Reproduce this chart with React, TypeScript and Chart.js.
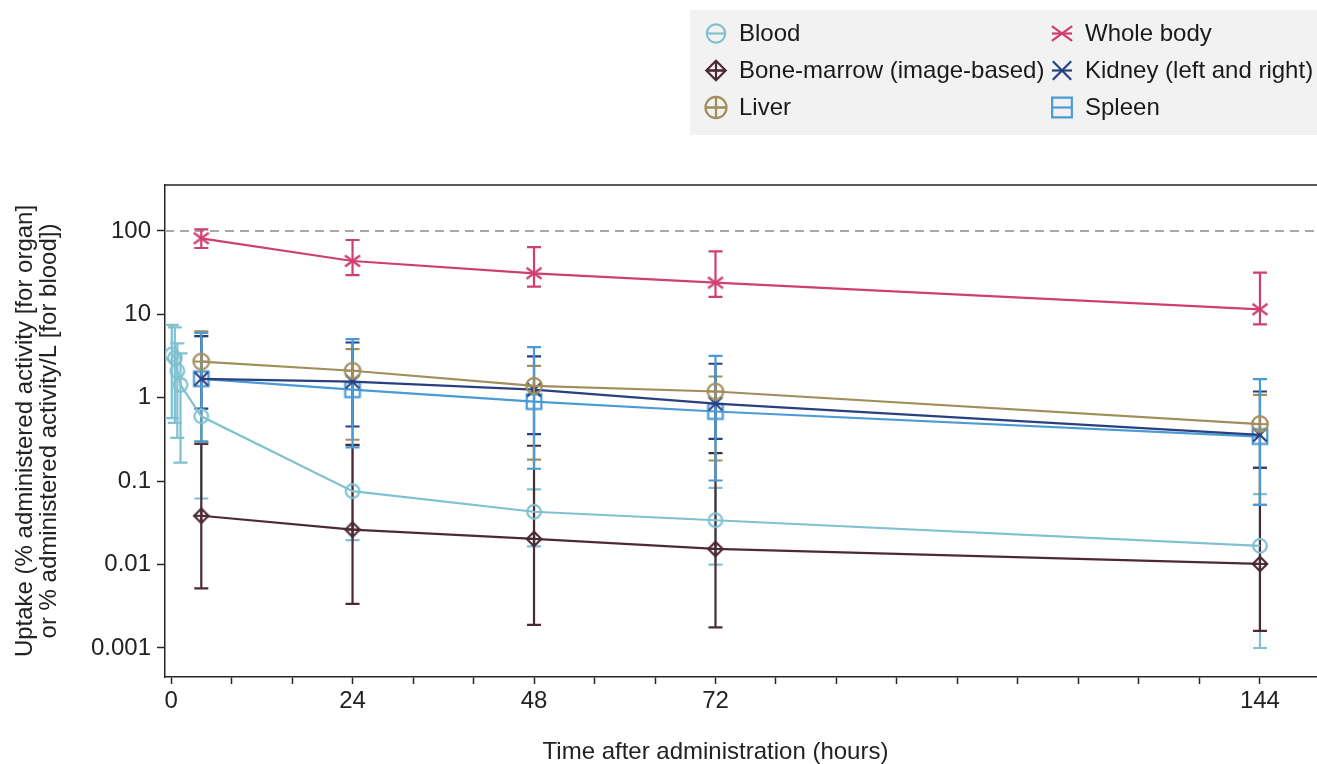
import React, { useEffect, useRef } from "react";
import { Chart, registerables } from "chart.js";

Chart.register(...registerables);

const FONT = "'Liberation Sans', Arial, Helvetica, sans-serif";

// ---- data ----
const seriesNames = [
  "Blood",
  "Bone-marrow (image-based)",
  "Liver",
  "Whole body",
  "Kidney (left and right)",
  "Spleen",
];
const seriesColors = ["#7fc1d0", "#4b2a36", "#a28e5c", "#cf3f6e", "#283f80", "#4a9bd5"];

const bloodTimes = [0.1, 0.5, 0.83, 1.25, 4, 24, 48, 72, 144];
const bloodValues = [3.3, 3.0, 2.1, 1.43, 0.6, 0.076, 0.043, 0.034, 0.0168];
const bloodLower = [0.57, 0.5, 0.33, 0.167, 0.062, 0.0197, 0.0165, 0.01, 0.001];
const bloodUpper = [7.5, 7.0, 4.5, 3.4, 5.5, 0.27, 0.08, 0.083, 0.07];

const organTimes = [4, 24, 48, 72, 144];

const marrowValues = [0.0385, 0.0263, 0.0203, 0.0154, 0.0102];
const marrowLower = [0.0052, 0.00338, 0.00189, 0.00177, 0.0016];
const marrowUpper = [0.28, 0.273, 0.266, 0.217, 0.145];

const liverValues = [2.72, 2.11, 1.39, 1.19, 0.484];
const liverLower = [0.294, 0.314, 0.181, 0.177, 0.052];
const liverUpper = [6.24, 3.84, 2.42, 1.8, 1.086];

const wholeBodyValues = [81.7, 43.7, 31.1, 24.0, 11.5];
const wholeBodyLower = [62.5, 29.6, 21.5, 16.2, 7.6];
const wholeBodyUpper = [104.8, 78, 64, 57.1, 31.6];

const kidneyValues = [1.69, 1.56, 1.25, 0.85, 0.36];
const kidneyLower = [0.74, 0.453, 0.367, 0.322, 0.145];
const kidneyUpper = [5.5, 4.6, 3.13, 2.56, 1.19];

const spleenValues = [1.69, 1.25, 0.9, 0.685, 0.343];
const spleenLower = [0.3, 0.254, 0.141, 0.102, 0.052];
const spleenUpper = [6.0, 5.06, 4.05, 3.19, 1.675];

const xTicks = [0, 8, 16, 24, 32, 40, 48, 56, 64, 72, 80, 88, 96, 104, 112, 120, 128, 136, 144];
const xTickLabels = ["0", "", "", "24", "", "", "48", "", "", "72", "", "", "", "", "", "", "", "", "144"];
const yTicks = [0.001, 0.01, 0.1, 1, 10, 100];
const yTickLabels = ["0.001", "0.01", "0.1", "1", "10", "100"];
const referenceLevel = 100;

const xTitle = "Time after administration (hours)";
const yTitle = ["Uptake (% administered activity [for organ]", "or % administered activity/L [for blood])"];

// ---- markers ----
type MarkerKind = "circle" | "diamondPlus" | "circlePlus" | "xWide" | "x" | "square";
const seriesMarkers: MarkerKind[] = ["circle", "diamondPlus", "circlePlus", "xWide", "x", "square"];

function drawMarker(
  ctx: CanvasRenderingContext2D,
  kind: MarkerKind,
  cx: number,
  cy: number,
  s: number,
  color: string,
  lw: number
) {
  ctx.save();
  ctx.strokeStyle = color;
  ctx.lineWidth = lw;
  ctx.lineJoin = "miter";
  ctx.beginPath();
  if (kind === "circle") {
    ctx.arc(cx, cy, 6.8 * s, 0, Math.PI * 2);
  } else if (kind === "circlePlus") {
    const r = 7.8 * s;
    ctx.arc(cx, cy, r, 0, Math.PI * 2);
    ctx.moveTo(cx - r, cy);
    ctx.lineTo(cx + r, cy);
    ctx.moveTo(cx, cy - r);
    ctx.lineTo(cx, cy + r);
  } else if (kind === "diamondPlus") {
    const d = 7.2 * s;
    ctx.moveTo(cx, cy - d);
    ctx.lineTo(cx + d, cy);
    ctx.lineTo(cx, cy + d);
    ctx.lineTo(cx - d, cy);
    ctx.closePath();
    ctx.moveTo(cx - d, cy);
    ctx.lineTo(cx + d, cy);
    ctx.moveTo(cx, cy - d);
    ctx.lineTo(cx, cy + d);
  } else if (kind === "xWide") {
    const w = 7.5 * s;
    const h = 5.5 * s;
    ctx.moveTo(cx - w, cy - h);
    ctx.lineTo(cx + w, cy + h);
    ctx.moveTo(cx - w, cy + h);
    ctx.lineTo(cx + w, cy - h);
  } else if (kind === "x") {
    const w = 6.8 * s;
    ctx.moveTo(cx - w, cy - w);
    ctx.lineTo(cx + w, cy + w);
    ctx.moveTo(cx - w, cy + w);
    ctx.lineTo(cx + w, cy - w);
  } else if (kind === "square") {
    const a = 7.3 * s;
    ctx.rect(cx - a, cy - a, 2 * a, 2 * a);
  }
  ctx.stroke();
  ctx.restore();
}

function makeMarkerImage(kind: MarkerKind, color: string): HTMLCanvasElement {
  const c = document.createElement("canvas");
  c.width = 28;
  c.height = 28;
  const ctx = c.getContext("2d")!;
  drawMarker(ctx, kind, 14, 14, 1, color, 2.2);
  return c;
}

const errorBarPlugin = {
  id: "errorBars",
  beforeDatasetsDraw(chart: any) {
    const { ctx, chartArea } = chart;
    const xs = chart.scales.x;
    const ys = chart.scales.y;
    ctx.save();
    ctx.beginPath();
    ctx.rect(chartArea.left, chartArea.top, chartArea.right - chartArea.left, chartArea.bottom - chartArea.top);
    ctx.clip();
    // reference dashed line
    const yr = ys.getPixelForValue(referenceLevel);
    ctx.strokeStyle = "#a8a8a8";
    ctx.lineWidth = 2;
    ctx.setLineDash([9, 6]);
    ctx.beginPath();
    ctx.moveTo(chartArea.left, yr);
    ctx.lineTo(chartArea.right, yr);
    ctx.stroke();
    ctx.setLineDash([]);
    chart.data.datasets.forEach((ds: any) => {
      ctx.strokeStyle = ds.borderColor;
      ctx.lineWidth = 2.2;
      ds.data.forEach((p: any, i: number) => {
        const x = xs.getPixelForValue(p.x);
        const y1 = ys.getPixelForValue(ds.errLower[i]);
        const y2 = ys.getPixelForValue(ds.errUpper[i]);
        ctx.beginPath();
        ctx.moveTo(x, y1);
        ctx.lineTo(x, y2);
        ctx.moveTo(x - 7, y1);
        ctx.lineTo(x + 7, y1);
        ctx.moveTo(x - 7, y2);
        ctx.lineTo(x + 7, y2);
        ctx.stroke();
      });
    });
    ctx.restore();
  },
  afterDraw(chart: any) {
    const { ctx, chartArea } = chart;
    const xs = chart.scales.x;
    ctx.save();
    // top frame
    ctx.strokeStyle = "#262626";
    ctx.lineWidth = 1.5;
    ctx.beginPath();
    ctx.moveTo(chartArea.left, chartArea.top);
    ctx.lineTo(chartArea.right, chartArea.top);
    ctx.lineTo(chartArea.right, chartArea.bottom);
    ctx.stroke();
    // x title
    ctx.fillStyle = "#222";
    ctx.font = `24px ${FONT}`;
    ctx.textAlign = "center";
    ctx.textBaseline = "middle";
    ctx.fillText(xTitle, xs.getPixelForValue(72), 752);
    // legend
    ctx.fillStyle = "#f2f2f2";
    ctx.fillRect(690, 10, 700, 125);
    const colMarkerX = [716, 1062];
    const colTextX = [739, 1085];
    const rowY = [33.5, 70.5, 107.5];
    const order = [0, 1, 2, 3, 4, 5];
    order.forEach((si, k) => {
      const col = k < 3 ? 0 : 1;
      const row = k % 3;
      const mx = colMarkerX[col];
      const my = rowY[row];
      const color = seriesColors[si];
      ctx.strokeStyle = color;
      ctx.lineWidth = 2.2;
      ctx.beginPath();
      ctx.moveTo(mx - 10, my);
      ctx.lineTo(mx + 10, my);
      ctx.stroke();
      drawMarker(ctx, seriesMarkers[si], mx, my, 1.35, color, 2.2);
      ctx.fillStyle = "#1a1a1a";
      ctx.font = `24px ${FONT}`;
      ctx.textAlign = "left";
      ctx.textBaseline = "middle";
      ctx.fillText(seriesNames[si], colTextX[col], my + 1);
    });
    ctx.restore();
  },
};

export default function App() {
  const canvasRef = useRef<HTMLCanvasElement | null>(null);

  useEffect(() => {
    const canvas = canvasRef.current;
    if (!canvas) return;

    const seriesTimes = [bloodTimes, organTimes, organTimes, organTimes, organTimes, organTimes];
    const seriesValues = [bloodValues, marrowValues, liverValues, wholeBodyValues, kidneyValues, spleenValues];
    const seriesLower = [bloodLower, marrowLower, liverLower, wholeBodyLower, kidneyLower, spleenLower];
    const seriesUpper = [bloodUpper, marrowUpper, liverUpper, wholeBodyUpper, kidneyUpper, spleenUpper];

    const datasets = seriesNames.map((name, si) => {
      const img = makeMarkerImage(seriesMarkers[si], seriesColors[si]);
      return {
        label: name,
        data: seriesTimes[si].map((t, i) => ({ x: t, y: seriesValues[si][i] })),
        errLower: seriesLower[si],
        errUpper: seriesUpper[si],
        borderColor: seriesColors[si],
        backgroundColor: seriesColors[si],
        borderWidth: 2.2,
        tension: 0,
        pointStyle: img,
        pointRadius: 7,
        pointHoverRadius: 7,
        fill: false,
      };
    });

    const chart = new Chart(canvas, {
      type: "line",
      data: { datasets: datasets as any },
      plugins: [errorBarPlugin as any],
      options: {
        animation: false,
        responsive: false,
        devicePixelRatio: 1,
        events: [],
        layout: { padding: { top: 185, right: 12, bottom: 0, left: 0 } },
        plugins: {
          legend: { display: false },
          tooltip: { enabled: false },
          title: { display: false },
        },
        scales: {
          x: {
            type: "linear",
            min: -0.8,
            max: 153,
            afterFit: (scale: any) => {
              scale.height = 87;
            },
            afterBuildTicks: (scale: any) => {
              scale.ticks = xTicks.map((v) => ({ value: v }));
            },
            ticks: {
              autoSkip: false,
              maxRotation: 0,
              padding: 3,
              color: "#222",
              font: { family: FONT, size: 24 },
              callback: (value: any) => {
                const idx = xTicks.indexOf(Number(value));
                return idx >= 0 ? xTickLabels[idx] : "";
              },
            },
            grid: {
              display: true,
              drawOnChartArea: false,
              drawTicks: true,
              tickLength: 7,
              tickColor: "#262626",
              tickWidth: 1.5,
            },
            border: { display: true, color: "#262626", width: 1.5 },
          },
          y: {
            type: "logarithmic",
            min: 0.000449,
            max: 356,
            afterFit: (scale: any) => {
              scale.width = 165;
            },
            afterBuildTicks: (scale: any) => {
              scale.ticks = yTicks.map((v) => ({ value: v }));
            },
            ticks: {
              autoSkip: false,
              padding: 6,
              color: "#222",
              font: { family: FONT, size: 24 },
              callback: (value: any) => {
                const idx = yTicks.findIndex((v) => Math.abs(v - Number(value)) < v * 1e-6);
                return idx >= 0 ? yTickLabels[idx] : "";
              },
            },
            grid: {
              display: true,
              drawOnChartArea: false,
              drawTicks: true,
              tickLength: 8,
              tickColor: "#262626",
              tickWidth: 1.5,
            },
            border: { display: true, color: "#262626", width: 1.5 },
            title: {
              display: true,
              text: yTitle,
              color: "#222",
              font: { family: FONT, size: 24, lineHeight: 0.97 },
              padding: { top: 14, bottom: 0 },
            },
          },
        },
      },
    });

    return () => {
      chart.destroy();
    };
  }, []);

  return (
    <div
      style={{
        position: "fixed",
        left: 0,
        top: 0,
        width: 1317,
        height: 764,
        overflow: "hidden",
        background: "#fff",
      }}
    >
      <canvas ref={canvasRef} width={1340} height={764} style={{ display: "block" }} />
    </div>
  );
}
